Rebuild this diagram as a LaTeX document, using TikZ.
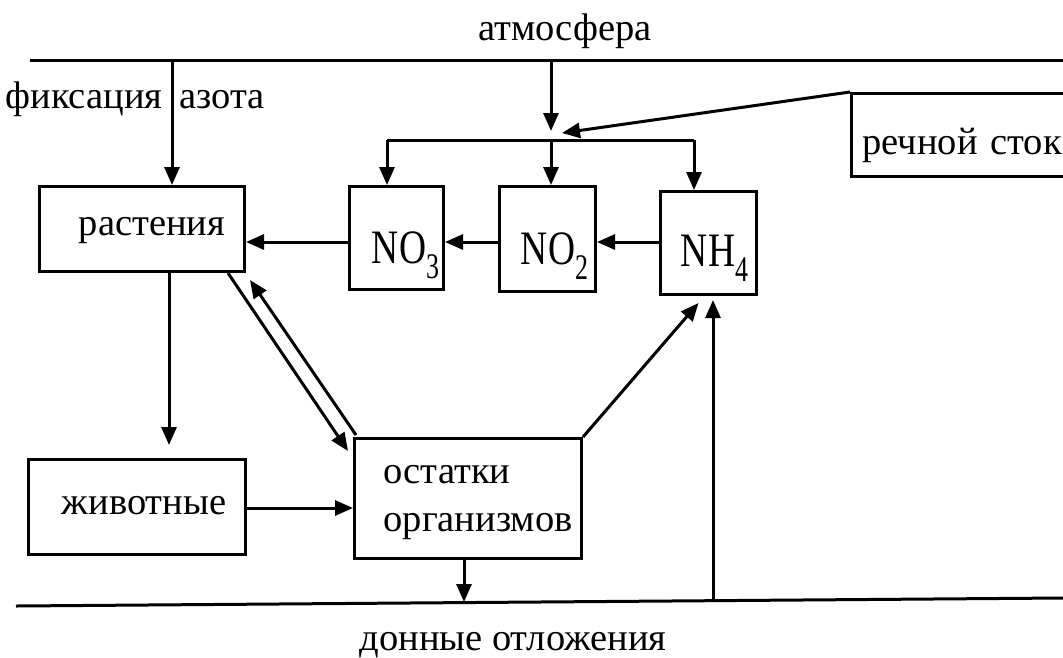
\documentclass[tikz,border=0pt]{standalone}
\usepackage{fontspec}
\usepackage{graphicx}
\setmainfont{Liberation Serif}
\usetikzlibrary{arrows.meta,calc}
\newcommand{\chem}[2]{{\fontsize{48}{48}\selectfont\scalebox{0.78}[1]{#1}\raisebox{-15pt}{\fontsize{36}{36}\selectfont\scalebox{0.72}[1]{#2}}}}
\begin{document}
\begin{tikzpicture}[x=1pt,y=-1pt,line width=3pt,
  box/.style={draw,inner sep=0pt,anchor=north west},
  arr/.style={-{Triangle[length=18pt,width=15pt]}},
  lbl/.style={inner sep=0pt,anchor=base},
  font=\fontsize{38.5}{48}\selectfont]
\useasboundingbox (0,0) rectangle (1063,657);
% boundary lines
\coordinate (tl) at (30,60);
\coordinate (tr) at (1063,60);
\coordinate (bl) at (16,606);
\coordinate (br) at (1063,598);
\draw (tl) -- (tr);
\draw (bl) -- (br);
% labels
\node[lbl] (atmt) at (565,40) {атмосфера};
\node[lbl,anchor=base east] (fix1) at (164,108) {фиксация};
\node[lbl,anchor=base west] (fix2) at (178,108) {азота};
\node[lbl] (dno) at (513,650) {донные отложения};
% boxes
\node[box,minimum width=205,minimum height=85,text height=13pt,text depth=0pt] (rast) at (38,185) {\hspace*{20pt}растения};
\node[box,minimum width=94,minimum height=103,text height=51pt,text depth=0pt] (no3) at (348,185) {\hspace*{18pt}\chem{NO}{3}};
\node[box,minimum width=96,minimum height=105,text height=51pt,text depth=0pt] (no2) at (498,185) {\hspace*{14pt}\chem{NO}{2}};
\node[box,minimum width=96,minimum height=103,text height=46pt,text depth=0pt] (nh4) at (659,190) {\hspace*{12pt}\chem{NH}{4}};
\node[box,minimum height=83,text width=230,inner xsep=11,align=left,text height=39pt,text depth=0pt] (rs) at (850,92) {речной сток};
\node[box,minimum width=217,minimum height=95,text height=14pt,text depth=0pt] (zhiv) at (27,458) {\hspace*{14pt}животные};
\node[box,minimum height=120,text width=169,inner xsep=29,align=left,text height=10pt,text depth=40pt] (ost) at (353,437) {остатки\\организмов};
% nitrogen fixation
\coordinate (fx) at (172,60);
\draw[arr] (fx) -- (fx |- rast.north);
% atmosphere and river runoff
\coordinate (atm) at (551,60);
\coordinate (j) at (551,140);
\draw[arr] (atm) -- ($(j)+(0,-9)$);
\draw[arr] (rs.north west) -- ($(j)+(11,-7)$);
\coordinate (c3) at (387,140);
\coordinate (c4) at (694,140);
\draw (c3) -- (c4);
\draw[arr] (c3) -- (c3 |- no3.north);
\draw[arr] (j) -- (j |- no2.north);
\draw[arr] (c4) -- (c4 |- nh4.north);
% nitrification chain
\coordinate (ch) at (0,242);
\draw[arr] (ch -| nh4.west) -- (ch -| no2.east);
\draw[arr] (ch -| no2.west) -- (ch -| no3.east);
\draw[arr] (ch -| no3.west) -- (ch -| rast.east);
% plants -> animals
\coordinate (ra) at (169,445);
\draw[arr] (ra |- rast.south) -- (ra);
% animals -> remains
\coordinate (za) at (0,508);
\draw[arr] (za -| zhiv.east) -- (za -| ost.west);
% plants <-> remains
\draw[arr] ($(rast.south east)+(-18,0)$) -- ($(ost.north west)+(-5,14)$);
\draw[arr] ($(ost.north west)+(3,-2)$) -- ($(rast.south east)+(4,7)$);
% remains -> NH4
\draw[arr] (ost.north east) -- ($(nh4.south)+(-10,7)$);
% sediments -> NH4
\coordinate (sd) at (713,602);
\draw[arr] (sd) -- ($(nh4.south -| sd)+(0,4)$);
% remains -> sediments
\coordinate (os) at (464,602);
\draw[arr] (os |- ost.south) -- (os);
\end{tikzpicture}
\end{document}
